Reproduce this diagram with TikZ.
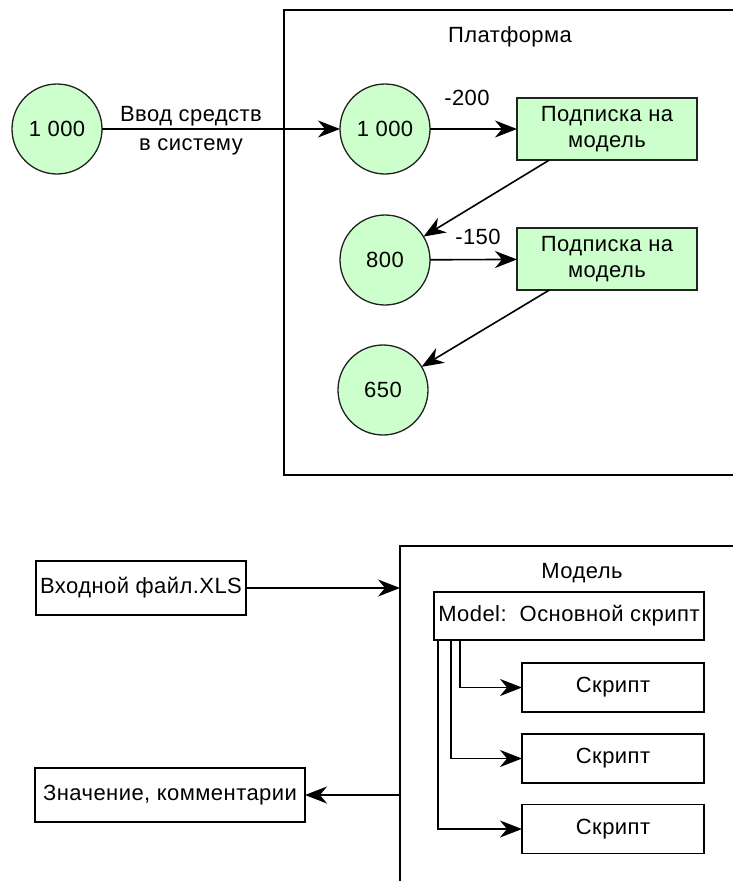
\documentclass[tikz,border=0pt]{standalone}
\usepackage{fontspec}
\setmainfont{Liberation Sans}[LetterSpace=2]
\usetikzlibrary{arrows.meta,calc}
\definecolor{lgreen}{RGB}{204,255,204}
\definecolor{edgec}{RGB}{34,34,34}
\begin{document}
\begin{tikzpicture}[x=1pt,y=-1pt,
  font=\fontsize{22}{26}\selectfont,
  every node/.style={inner sep=0pt,outer sep=0pt},
  conn/.style={line width=1.6pt, draw=black, -{Stealth[length=22pt,width=17pt,inset=7pt]}},
  circ/.style={circle, draw=edgec, line width=1.3pt, fill=lgreen, minimum size=90pt},
  subbox/.style={draw=edgec, line width=1.5pt, fill=lgreen, minimum width=180pt, minimum height=62pt, align=center},
  wbox/.style={draw=black, line width=1.5pt, fill=white, align=center},
  frame/.style={draw=black, line width=1.7pt, anchor=north west},
  lbl/.style={}
]
\useasboundingbox (0,0) rectangle (733,881);
\clip (0,0) rectangle (733,881);
\fill[white] (0,0) rectangle (733,881);

% top part
\node[frame, minimum width=480pt, minimum height=465pt] (platform) at (284,10) {};
\node[lbl] (plabel) at (510,37) {Платформа};

\node[circ] (a) at (57,129) {1~000};
\node[circ] (b) at (385,129) {1~000};
\node[circ] (c) at (385,260) {800};
\node[circ] (d) at (383,390) {650};
\node[subbox] (p1) at (607,129) {Подписка на\\модель};
\node[subbox] (p2) at (607,259) {Подписка на\\модель};

\draw[conn] (a) -- (b);
\node[lbl] (in1) at (191,116) {Ввод средств};
\node[lbl] (in2) at (191,147) {в систему};
\draw[conn] (b) -- (p1);
\node[lbl] (m200) at (467,98) {-200};
\draw[conn] ($(p1.south west)!0.18!(p1.south east)$) -- (c);
\draw[conn] (c) -- (p2);
\node[lbl] (m150) at (478,237) {-150};
\draw[conn] ($(p2.south west)!0.18!(p2.south east)$) -- (d);

% bottom part
\node[wbox, minimum width=210pt, minimum height=54pt] (xls) at (141,588) {Входной файл.XLS};
\node[frame, minimum width=420pt, minimum height=420pt] (model) at (400,546) {};
\node[lbl] (mlabel) at (582,573) {Модель};
\node[wbox, minimum width=270pt, minimum height=48pt] (main) at (569,616) {Model:\ \ Основной скрипт};
\node[wbox, minimum width=182pt, minimum height=49pt] (s1) at (613,687.5) {Скрипт};
\node[wbox, minimum width=182pt, minimum height=49pt] (s2) at (613,758.5) {Скрипт};
\node[wbox, minimum width=182pt, minimum height=49pt] (s3) at (613,829) {Скрипт};
\node[wbox, minimum width=270pt, minimum height=54pt] (val) at (170,795) {Значение, комментарии};

\draw[conn] (xls) -- (xls -| model.west);
\draw[conn] (model.west |- val) -- (val);
\draw[conn] ($(main.south west)+(26,0)$) |- (s1);
\draw[conn] ($(main.south west)+(17,0)$) |- (s2);
\draw[conn] ($(main.south west)+(4,0)$) |- (s3);
\end{tikzpicture}
\end{document}
